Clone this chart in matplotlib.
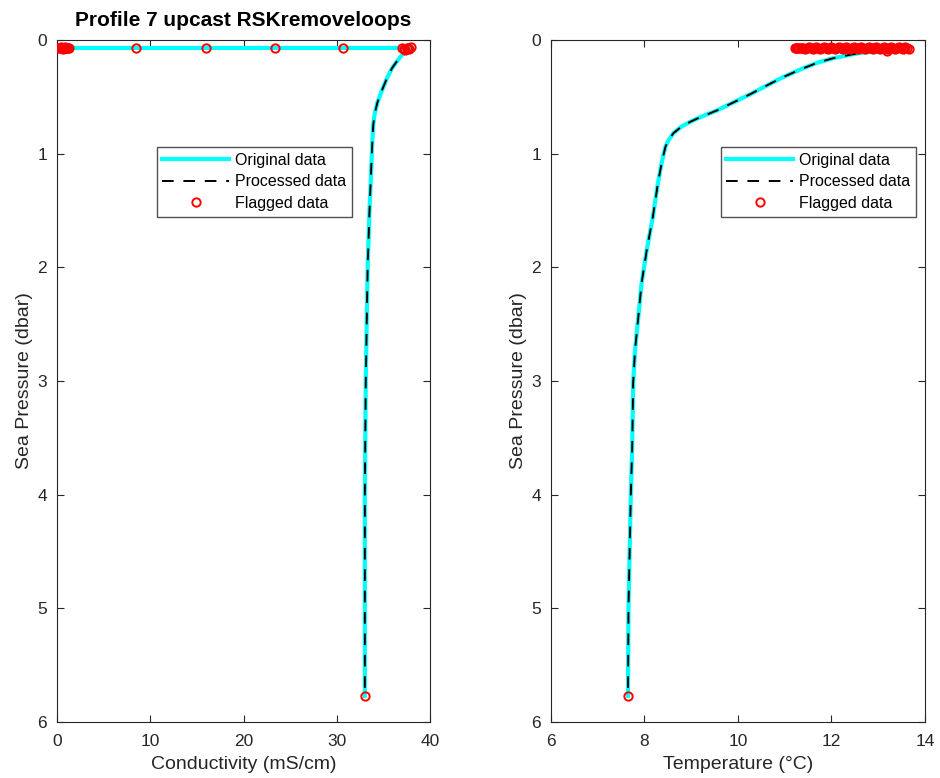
import matplotlib
matplotlib.use('Agg')
import matplotlib.pyplot as plt

plt.rcParams['font.family'] = ['Liberation Sans', 'DejaVu Sans']

# conductivity profile (upcast, bottom to surface), loop at the surface
cond_pres = [5.77, 5.7, 5.0, 4.0, 3.5, 3.0, 2.5, 2.0, 1.5, 1.2, 0.9, 0.75, 0.65, 0.55, 0.45, 0.35, 0.25, 0.18, 0.12, 0.09]
cond_vals = [33.0, 33.0, 33.0, 33.0, 33.05, 33.1, 33.2, 33.3, 33.5, 33.65, 33.8, 33.9, 34.05, 34.35, 34.8, 35.3, 35.9, 36.5, 37.1, 37.4]
cond_loop_pres = [0.08, 0.06, 0.07, 0.09, 0.07, 0.08, 0.07, 0.07, 0.07, 0.07, 0.07, 0.07,
                  0.07, 0.07, 0.07, 0.06, 0.07, 0.08, 0.07, 0.06, 0.07, 0.07]
cond_loop_vals = [37.7, 37.9, 37.6, 37.3, 37.5, 37.2, 37.0, 30.7, 23.4, 16.0, 8.5, 1.3,
                  1.2, 1.1, 1.0, 0.9, 0.8, 0.6, 0.5, 0.4, 0.3, 0.1]

# temperature profile
temp_pres = [5.77, 5.7, 5.0, 4.0, 3.58, 3.02, 2.73, 2.44, 2.14, 1.85, 1.56, 1.26, 1.08, 0.94, 0.88, 0.82,
             0.76, 0.72, 0.68, 0.62, 0.55, 0.48, 0.40, 0.33, 0.26, 0.20, 0.16, 0.13, 0.11]
temp_vals = [7.65, 7.65, 7.66, 7.71, 7.74, 7.76, 7.8, 7.87, 7.94, 8.05, 8.18, 8.29, 8.37, 8.45, 8.52, 8.62,
             8.8, 8.98, 9.19, 9.55, 9.9, 10.25, 10.62, 10.95, 11.33, 11.7, 12.04, 12.4, 12.67]
temp_loop_pres = [0.1, 0.08, 0.07, 0.06, 0.07, 0.08, 0.07, 0.06, 0.07, 0.08, 0.07, 0.06, 0.07, 0.08, 0.07,
                  0.06, 0.07, 0.08, 0.07, 0.06, 0.07, 0.08, 0.07, 0.06, 0.07, 0.08, 0.07, 0.06, 0.07, 0.08,
                  0.07, 0.06, 0.07, 0.08, 0.07, 0.06, 0.07, 0.08, 0.07, 0.06, 0.07, 0.08, 0.07, 0.06, 0.07,
                  0.08, 0.07, 0.06, 0.07, 0.08, 0.07, 0.06, 0.07, 0.08, 0.07, 0.06, 0.07, 0.08, 0.07, 0.07,
                  0.07, 0.07, 0.07, 0.07, 0.07, 0.07]
temp_loop_vals = [13.19, 13.65, 13.62, 13.58, 13.55, 13.52, 13.48, 13.44, 13.4, 13.36, 13.32, 13.28, 13.24, 13.2,
                  13.16, 13.12, 13.08, 13.04, 13.0, 12.96, 12.92, 12.88, 12.84, 12.8, 12.76, 12.72, 12.68,
                  12.64, 12.6, 12.56, 12.52, 12.48, 12.44, 12.4, 12.36, 12.32, 12.28, 12.24, 12.2, 12.16,
                  12.12, 12.08, 12.04, 12.0, 11.96, 11.92, 11.88, 11.84, 11.8, 11.76, 11.72, 11.68, 11.64,
                  11.6, 11.56, 11.52, 11.48, 11.44, 11.4, 11.37, 11.34, 11.31, 11.29, 11.27, 11.25, 11.23]

gray = '#262626'

fig = plt.figure(figsize=(9.4, 7.78), dpi=100)
ax1 = fig.add_axes([0.0606, 0.072, 0.397, 0.8766])
ax2 = fig.add_axes([0.586, 0.072, 0.398, 0.8766])


def profile(ax, pres, vals, loop_pres, loop_vals, xlim, xticks, xlabel, leg_x):
    orig_x = vals + loop_vals
    orig_y = pres + loop_pres
    ax.plot(orig_x, orig_y, color='cyan', lw=3, label='Original data', zorder=2)
    ax.plot(vals[1:], pres[1:], color='black', lw=1.4, ls=(0, (6, 5)), label='Processed data', zorder=3)
    fx = [vals[0]] + loop_vals
    fy = [pres[0]] + loop_pres
    ax.plot(fx, fy, ls='none', marker='o', ms=6, mfc='none', mec='red', mew=1.4,
            label='Flagged data', zorder=4)
    ax.set_xlim(xlim)
    ax.set_ylim(6, 0)
    ax.set_xticks(xticks)
    ax.set_yticks([0, 1, 2, 3, 4, 5, 6])
    ax.tick_params(direction='in', top=True, right=True, labelsize=12.5, colors=gray, length=5)
    ax.tick_params(axis='x', pad=9)
    ax.tick_params(axis='y', pad=7)
    for s in ax.spines.values():
        s.set_color(gray)
    ax.set_xlabel(xlabel, fontsize=14, color=gray, labelpad=5)
    ax.set_ylabel('Sea Pressure (dbar)', fontsize=14, color=gray, labelpad=3)
    leg = ax.legend(loc='upper right', bbox_to_anchor=(leg_x, 0.843),
                    fontsize=11.5, frameon=True, fancybox=False, edgecolor=gray,
                    handlelength=4.2, handletextpad=0.35, borderpad=0.35, labelspacing=0.42,
                    borderaxespad=0)
    leg.get_frame().set_linewidth(1.0)


profile(ax1, cond_pres, cond_vals, cond_loop_pres, cond_loop_vals, (0, 40), [0, 10, 20, 30, 40],
        'Conductivity (mS/cm)', 0.79)
profile(ax2, temp_pres, temp_vals, temp_loop_pres, temp_loop_vals, (6, 14), [6, 8, 10, 12, 14],
        'Temperature (°C)', 0.975)

ax1.set_title('Profile 7 upcast RSKremoveloops', fontsize=15, fontweight='bold', pad=10)

fig.savefig('out.png', dpi=100)
